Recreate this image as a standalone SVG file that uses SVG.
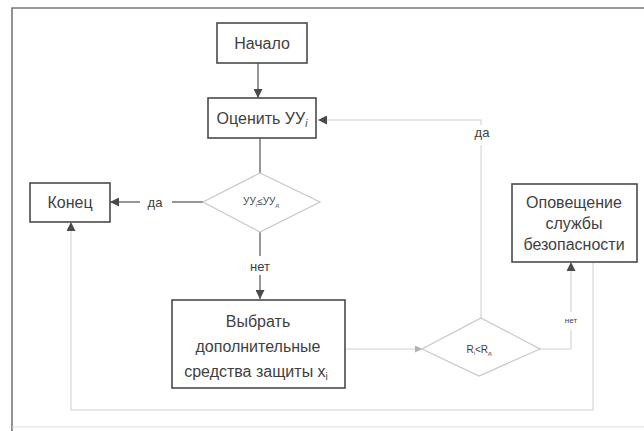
<svg xmlns="http://www.w3.org/2000/svg" width="644" height="431" viewBox="0 0 644 431">
  <style>
    .box { fill: #ffffff; stroke: #4a4a4a; stroke-width: 1.6; }
    .dia { fill: #ffffff; stroke: #c8c8c8; stroke-width: 1.2; }
    .t { font-family: "Liberation Sans", Arial, sans-serif; fill: #3f3f3f; text-anchor: middle; }
    .big { font-size: 16px; }
    .small { font-size: 10px; }
    .lbl { font-size: 13px; }
    .ln { fill: none; stroke: #5e5e5e; stroke-width: 1.3; }
    .faint { fill: none; stroke: #d2d2d2; stroke-width: 1.1; }
    .frame { fill: none; stroke: #777777; stroke-width: 1.6; }
  </style>
  <defs>
    <marker id="ah" viewBox="0 0 10 10" refX="10" refY="5" markerWidth="9" markerHeight="9" markerUnits="userSpaceOnUse" orient="auto">
      <path d="M0,0 L10,5 L0,10 z" fill="#4a4a4a"/>
    </marker>
    <marker id="ahl" viewBox="0 0 10 10" refX="10" refY="5" markerWidth="7" markerHeight="7" markerUnits="userSpaceOnUse" orient="auto">
      <path d="M0,0 L10,5 L0,10 z" fill="#b0b0b0"/>
    </marker>
  </defs>

  <rect width="644" height="431" fill="#ffffff"/>

  <!-- page frame -->
  <path class="frame" d="M644,8 L12,8 L12,431"/>
  <path d="M12,427 L644,427" stroke="#dddddd" stroke-width="1.2" fill="none"/>

  <!-- connectors -->
  <g id="connectors">
    <path class="ln" d="M258,63 L258,98" marker-end="url(#ah)"/>
    <path class="ln" d="M260,138 L260,173"/>
    <path class="ln" d="M203,202 L172,202"/>
    <path class="ln" d="M140,202 L110,202" marker-end="url(#ah)"/>
    <path class="ln" d="M260,232 L260,256"/>
    <path class="ln" d="M260,275 L260,299" marker-end="url(#ah)"/>
    <path class="faint" d="M345,349 L422,349" marker-end="url(#ahl)"/>
    <path class="faint" d="M540,349 L571,349 L571,330"/>
    <path class="faint" d="M571,312 L571,262" marker-end="url(#ah)"/>
    <path class="faint" d="M481,318 L481,145"/>
    <path class="faint" d="M481,125 L481,120 L318,120" marker-end="url(#ah)"/>
    <path class="faint" d="M593,262 L593,410 L71,410 L71,222" marker-end="url(#ah)"/>
    <text class="t lbl" x="155" y="207">да</text>
    <text class="t lbl" x="260" y="271">нет</text>
    <text class="t lbl" x="482" y="137">да</text>
    <text class="t" x="571" y="323" font-size="8">нет</text>
  </g>

  <g id="start">
    <rect class="box" x="217" y="23" width="90" height="40"/>
    <text class="t big" x="262" y="49">Начало</text>
  </g>

  <g id="evaluate">
    <rect class="box" x="208" y="98" width="108" height="40"/>
    <text class="t big" x="262" y="124">Оценить УУ<tspan font-size="10" dy="3" font-style="italic">i</tspan></text>
  </g>

  <g id="check-level">
    <polygon class="dia" points="260,173 320,202 260,232 203,202"/>
    <text class="t small" x="261" y="205">УУ<tspan font-size="6" dy="2">i</tspan><tspan dy="-2">≤УУ</tspan><tspan font-size="6" dy="2">д</tspan></text>
  </g>

  <g id="end">
    <rect class="box" x="30" y="183" width="80" height="39"/>
    <text class="t big" x="70" y="208">Конец</text>
  </g>

  <g id="choose-means">
    <rect class="box" x="172" y="300" width="173" height="88"/>
    <text class="t big" x="258" y="327">Выбрать</text>
    <text class="t big" x="258" y="352">дополнительные</text>
    <text class="t big" x="256" y="377">средства защиты x<tspan font-size="10" dy="3">i</tspan></text>
  </g>

  <g id="check-risk">
    <polygon class="dia" points="481,318 540,349 479,376 422,349"/>
    <text class="t small" x="479" y="353">R<tspan font-size="6" dy="2">i</tspan><tspan dy="-2">&lt;R</tspan><tspan font-size="6" dy="2">д</tspan></text>
  </g>

  <g id="notify">
    <rect class="box" x="512" y="184" width="125" height="78"/>
    <text class="t big" x="574" y="208">Оповещение</text>
    <text class="t big" x="574" y="229">службы</text>
    <text class="t big" x="574" y="250">безопасности</text>
  </g>
</svg>
